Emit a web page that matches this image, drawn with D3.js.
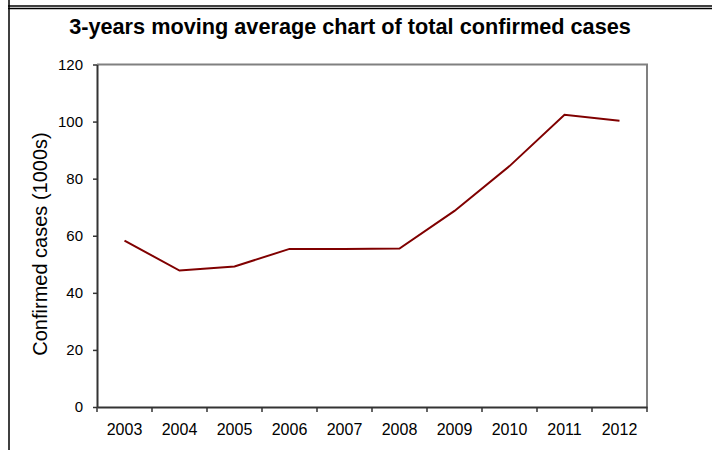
<!DOCTYPE html>
<html>
<head>
<meta charset="utf-8">
<script src="https://cdn.jsdelivr.net/npm/d3@7"></script>
<style>
  body { margin: 0; background: #fff; }
  svg { display: block; font-family: "Liberation Sans", Arial, sans-serif; }
</style>
</head>
<body>
<div id="chart"></div>
<script>
// Chart data.
const years = ["2003", "2004", "2005", "2006", "2007", "2008", "2009", "2010", "2011", "2012"];
const movingAverage = [58.3, 47.8, 49.2, 55.4, 55.4, 55.5, 68.7, 84.4, 102.4, 100.3];
const yTicks = [0, 20, 40, 60, 80, 100, 120];

function drawChart() {
    const width = 712, height = 450;
    const margin = { top: 64.5, right: 65, bottom: 43, left: 97 };
    const innerW = width - margin.left - margin.right;
    const innerH = height - margin.top - margin.bottom;

    const svg = d3.select("#chart")
        .append("svg")
        .attr("width", width)
        .attr("height", height);

    // Outer frame lines (like a document table border).
    svg.append("line").attr("x1", 9).attr("x2", 9).attr("y1", 0).attr("y2", height)
        .attr("stroke", "#000").attr("stroke-width", 1.5);
    [6, 8.5].forEach(y => {
        svg.append("line").attr("x1", 8).attr("x2", width).attr("y1", y).attr("y2", y)
            .attr("stroke", "#000").attr("stroke-width", 1.3);
    });

    // Title.
    svg.append("text")
        .attr("x", 350)
        .attr("y", 34)
        .attr("text-anchor", "middle")
        .style("font-size", "21.7px")
        .style("font-weight", "bold")
        .text("3-years moving average chart of total confirmed cases");

    const g = svg.append("g")
        .attr("transform", `translate(${margin.left},${margin.top})`);

    const x = d3.scaleBand().domain(years).range([0, innerW]);
    const y = d3.scaleLinear().domain([0, 120]).range([innerH, 0]);

    // Top and right plot borders in grey.
    g.append("path")
        .attr("d", `M0,0H${innerW}V${innerH}`)
        .attr("fill", "none")
        .attr("stroke", "#808080")
        .attr("stroke-width", 2);

    // Y axis.
    const yAxis = g.append("g")
        .call(d3.axisLeft(y).tickValues(yTicks).tickSize(4).tickPadding(10).tickSizeOuter(0));
    yAxis.select(".domain").attr("stroke", "#333").attr("stroke-width", 2);
    yAxis.selectAll(".tick line").attr("stroke", "#333").attr("stroke-width", 1.5);
    yAxis.selectAll(".tick text")
        .style("font-size", "15px")
        .style("font-family", "Liberation Sans, Arial, sans-serif")
        .attr("fill", "#000");

    // X axis: labels at category centres, ticks on category boundaries.
    const xAxis = g.append("g")
        .attr("transform", `translate(0,${innerH})`)
        .call(d3.axisBottom(x).tickSize(0).tickPadding(0).tickSizeOuter(0));
    xAxis.select(".domain").attr("stroke", "#333").attr("stroke-width", 2);
    xAxis.selectAll(".tick text")
        .attr("y", 27.5)
        .attr("dy", 0)
        .style("font-size", "16px")
        .style("font-family", "Liberation Sans, Arial, sans-serif")
        .attr("fill", "#000");

    const boundaries = d3.range(years.length + 1).map(i => i * x.step());
    xAxis.selectAll(".bound")
        .data(boundaries)
        .enter()
        .append("line")
        .attr("class", "bound")
        .attr("x1", d => d).attr("x2", d => d)
        .attr("y1", 0).attr("y2", 5)
        .attr("stroke", "#333")
        .attr("stroke-width", 1.5);

    // Moving average line.
    const line = d3.line()
        .x((d, i) => x(years[i]) + x.bandwidth() / 2)
        .y(d => y(d));

    g.append("path")
        .datum(movingAverage)
        .attr("d", line)
        .attr("fill", "none")
        .attr("stroke", "#800000")
        .attr("stroke-width", 2);

    // Y axis title.
    svg.append("text")
        .attr("transform", "translate(47,244) rotate(-90)")
        .attr("text-anchor", "middle")
        .style("font-size", "20px")
        .text("Confirmed cases (1000s)");
}

drawChart();
</script>
</body>
</html>
